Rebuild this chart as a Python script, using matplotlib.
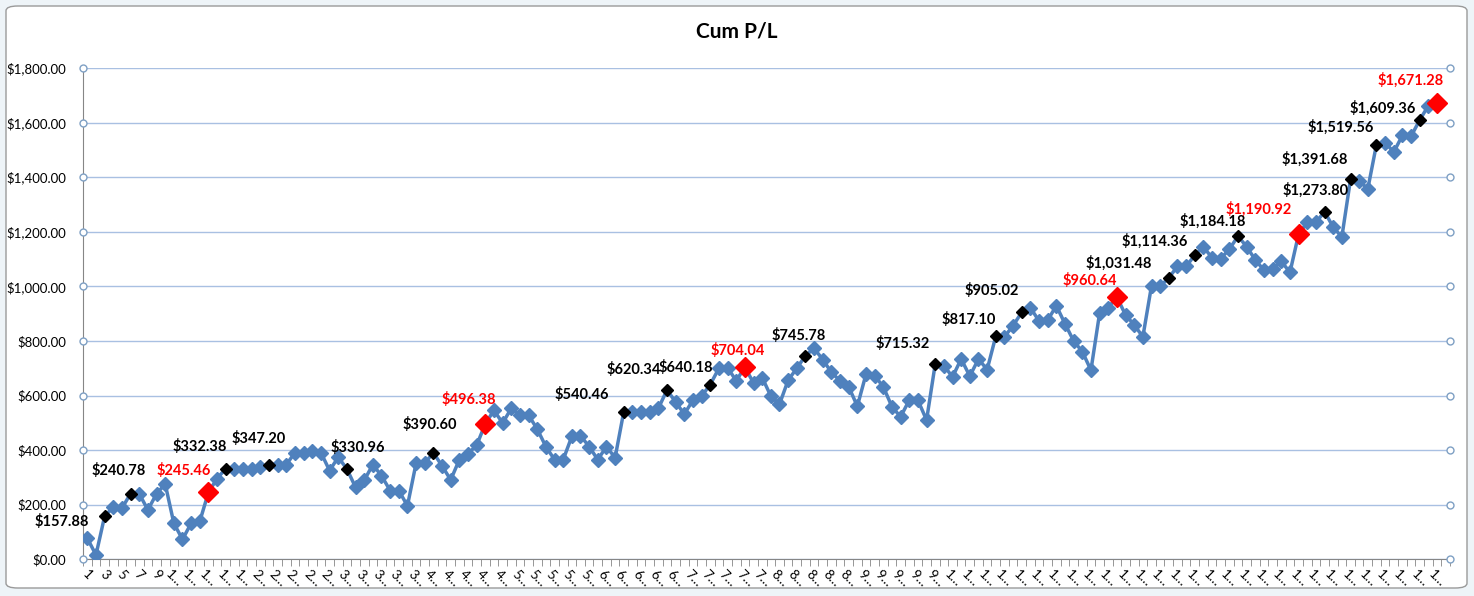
import numpy as np
import matplotlib
matplotlib.use('Agg')
import matplotlib.pyplot as plt
from matplotlib.patches import FancyBboxPatch

plt.rcParams['font.family'] = ['Lato', 'DejaVu Sans']

#Cumulative P/L per trade (trade 1..157), category 158 left empty
cum_pl = [77, 16, 157.88, 191, 187, 240.78, 240, 181, 240, 276,
          132, 73, 132, 139, 245.46, 296, 332.38, 330, 330, 330,
          338, 347.20, 347, 347, 391, 391, 396, 391, 325, 374,
          330.96, 264, 289, 347, 306, 252, 252, 196, 352, 352,
          390.60, 342, 291, 365, 387, 418, 496.38, 546, 499, 553,
          528, 528, 477, 413, 365, 365, 450, 453, 413, 365,
          413, 372, 540.46, 538, 538, 538, 553, 620.34, 576, 532,
          583, 598, 640.18, 700, 702, 654, 704.04, 646, 666, 598,
          568, 656, 700, 745.78, 773, 732, 685, 654, 632, 561,
          678, 673, 632, 559, 522, 583, 583, 510, 715.32, 710,
          668, 734, 671, 734, 695, 817.10, 815, 856, 905.02, 922,
          873, 876, 929, 863, 800, 761, 693, 902, 922, 960.64,
          895, 859, 815, 1002, 1000, 1031.48, 1073, 1073, 1114.36, 1144,
          1105, 1102, 1136, 1184.18, 1145, 1097, 1059, 1064, 1092, 1051,
          1190.92, 1234, 1234, 1273.80, 1217, 1181, 1391.68, 1387, 1357, 1519.56,
          1527, 1492, 1553, 1550, 1609.36, 1662, 1671.28]
n_categories = 158

#Trades marked with a black label / red highlight
black_points = [3, 6, 17, 22, 31, 41, 63, 68, 73, 84, 99, 106, 109, 126, 129, 134, 144, 147, 150, 155]
red_points = [15, 47, 77, 120, 141, 157]

#Label offsets in pixels (dx, dy) from the point
label_offsets = {3: (-43, -5), 6: (-12, 23), 15: (-25, 22), 17: (-26, 22), 22: (-10, 26),
                 31: (11, 21), 41: (-4, 28), 47: (-17, 24), 63: (-42, 17), 68: (-33, 20),
                 73: (-24, 17), 77: (-7, 17), 84: (-7, 20), 99: (-33, 21), 106: (-27, 17),
                 109: (-30, 22), 120: (-27, 17), 126: (-50, 15), 129: (-40, 14), 134: (-25, 15),
                 141: (-40, 25), 144: (-9, 21), 147: (-36, 20), 150: (-36, 17), 155: (-37, 12),
                 157: (-26, 23)}

x = np.arange(1, len(cum_pl) + 1)
y = np.array(cum_pl)

fig = plt.figure(figsize=(14.74, 5.96), dpi=100)
fig.patch.set_facecolor('#EEF4F8')
frame = FancyBboxPatch((6 / 1474, 8 / 596), 1461 / 1474, 582 / 596,
                       boxstyle='round,pad=0,rounding_size=0.008',
                       transform=fig.transFigure, facecolor='white',
                       edgecolor='#9A9A9A', linewidth=1.0, zorder=-5)
fig.patches.append(frame)

ax = fig.add_axes([83 / 1474, 1 - 559.3 / 596, 1367 / 1474, (559.3 - 68) / 596])
ax.set_zorder(2)
ax.set_facecolor('none')

#Main series (plain markers only where no highlight sits)
marked = set(black_points + red_points)
plain = [i - 1 for i in x if i not in marked]
ax.plot(x, y, color='#4F81BD', linewidth=2.5, marker='D', markersize=7,
        markerfacecolor='#4F81BD', markeredgecolor='#4F81BD', markevery=plain, zorder=3)

#Highlighted points
bi = np.array(black_points) - 1
ax.plot(x[bi], y[bi], linestyle='none', marker='D', markersize=6,
        color='black', zorder=4)
ri = np.array(red_points) - 1
ax.plot(x[ri], y[ri], linestyle='none', marker='D', markersize=10,
        color='#FF0000', zorder=4)

for idx in black_points + red_points:
    dx, dy = label_offsets[idx]
    val = cum_pl[idx - 1]
    color = 'red' if idx in red_points else 'black'
    ax.annotate(f'${val:,.2f}', (idx, val), xytext=(dx, dy), textcoords='offset pixels',
                ha='center', va='center', fontsize=10.5, fontweight='bold', color=color, zorder=5)

#Axes
ax.set_xlim(0.5, n_categories + 0.5)
ax.set_ylim(0, 1800)
yticks = np.arange(0, 1801, 200)
ax.set_yticks(yticks)
ax.set_yticklabels([f'${v:,.2f}' for v in yticks], fontsize=9.5)
ax.tick_params(axis='y', length=0, pad=12)

ax.set_xticks(np.arange(0.5, n_categories + 1, 1), minor=True)
odd = np.arange(1, n_categories + 1, 2)
ax.set_xticks(odd)
ax.set_xticklabels([str(i) if i < 10 else str(i)[0] + '…' for i in odd],
                   rotation=-45, ha='center', va='top', fontsize=9.5)
ax.tick_params(axis='x', which='major', length=0, pad=6)
ax.tick_params(axis='x', which='minor', length=5, color='#868686', direction='out')

ax.grid(axis='y', color='#A9C0E2', linewidth=1.0)
ax.set_axisbelow(True)
for s in ['top', 'right']:
    ax.spines[s].set_visible(False)
ax.spines['left'].set_color('#868686')
ax.spines['bottom'].set_color('#868686')

#Small circles at both ends of each gridline
for end in [0.5, n_categories + 0.5]:
    ax.plot([end] * len(yticks), yticks, linestyle='none', marker='o', markersize=5,
            markerfacecolor='white', markeredgecolor='#7FA0C4', markeredgewidth=1.0,
            clip_on=False, zorder=6)

fig.text(0.5, 1 - 32 / 596, 'Cum P/L', ha='center', va='center', fontsize=15, fontweight='bold')

plt.savefig('out.png', dpi=100, facecolor=fig.get_facecolor())
